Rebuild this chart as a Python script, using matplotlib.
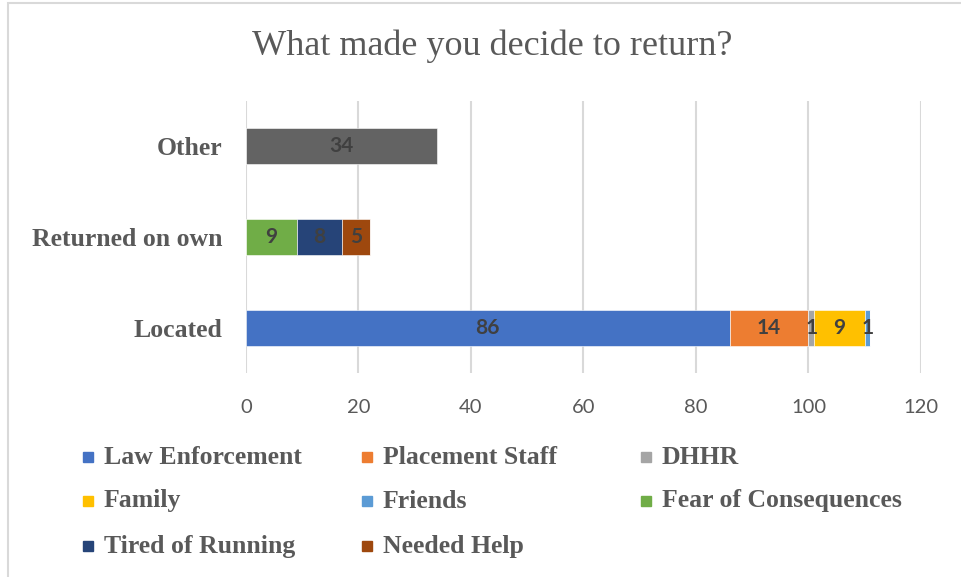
import matplotlib
matplotlib.use("Agg")
import matplotlib.pyplot as plt
from matplotlib.patches import Rectangle
import numpy as np

categories = ["Located", "Returned on own", "Other"]
series_names = ["Law Enforcement", "Placement Staff", "DHHR", "Family", "Friends",
                "Fear of Consequences", "Tired of Running", "Needed Help", ""]
law_enforcement = [86, 0, 0]
placement_staff = [14, 0, 0]
dhhr = [1, 0, 0]
family = [9, 0, 0]
friends = [1, 0, 0]
fear = [0, 9, 0]
tired = [0, 8, 0]
needed_help = [0, 5, 0]
other = [0, 0, 34]
values = [law_enforcement, placement_staff, dhhr, family, friends, fear, tired, needed_help, other]
colors = ["#4472C4", "#ED7D31", "#A5A5A5", "#FFC000", "#5B9BD5", "#70AD47",
          "#264478", "#9E480E", "#636363"]
x_ticks = [0, 20, 40, 60, 80, 100, 120]
title = "What made you decide to return?"

W, H = 962, 577
fig = plt.figure(figsize=(W / 100, H / 100), dpi=100)
ax = fig.add_axes([246 / W, 1 - 373 / H, (921 - 246) / W, (373 - 101) / H])

serif = ["Liberation Serif", "DejaVu Serif"]
sans = ["Lato", "DejaVu Sans"]

y = np.arange(len(categories))
left = np.zeros(len(categories))
for name, vals, c in zip(series_names, values, colors):
    vals = np.array(vals, dtype=float)
    bars = ax.barh(y, vals, left=left, height=0.4, color=c, edgecolor="white",
                   linewidth=0.4, zorder=3)
    for b, v in zip(bars, vals):
        if v > 0:
            ax.text(b.get_x() + b.get_width() / 2, b.get_y() + b.get_height() / 2,
                    f"{int(v)}", ha="center", va="center", fontsize=15,
                    fontweight="bold", color="#404040", family=sans, zorder=4)
    left += vals

ax.set_xlim(0, 120)
ax.set_ylim(-0.5, len(categories) - 0.5)
ax.set_xticks(x_ticks)
ax.set_xticklabels([str(t) for t in x_ticks], family=sans, fontsize=14.5, color="#595959")
ax.set_yticks(y)
ax.set_yticklabels(categories, family=serif, fontsize=18.5, fontweight="bold", color="#595959")
ax.tick_params(axis="both", length=0)
ax.tick_params(axis="x", pad=19)
ax.tick_params(axis="y", pad=17)
ax.grid(axis="x", color="#D9D9D9", linewidth=1.5, zorder=0)
for s in ax.spines.values():
    s.set_visible(False)

fig.text(492 / W, 1 - 46 / H, title, ha="center", va="center", family=serif,
         fontsize=26, color="#595959")

# legend (row-major, 3 columns)
col_x = [83, 362, 641]
row_y = [457, 501, 546]
named = [(n, c) for n, c in zip(series_names, colors) if n]
for i, (n, c) in enumerate(named):
    cx = col_x[i % 3]
    ry = row_y[i // 3]
    fig.add_artist(Rectangle((cx / W, 1 - (ry + 5) / H), 10 / W, 10 / H,
                             transform=fig.transFigure, color=c))
    fig.text((cx + 21) / W, 1 - ry / H, n, ha="left", va="center", family=serif,
             fontsize=18.5, fontweight="bold", color="#595959")

# chart border
fig.add_artist(Rectangle((8 / W, -0.01), 1.0, 1 - 3 / H + 0.01, transform=fig.transFigure,
                         fill=False, edgecolor="#D9D9D9", linewidth=1.5))

fig.savefig("out.png", dpi=100)
